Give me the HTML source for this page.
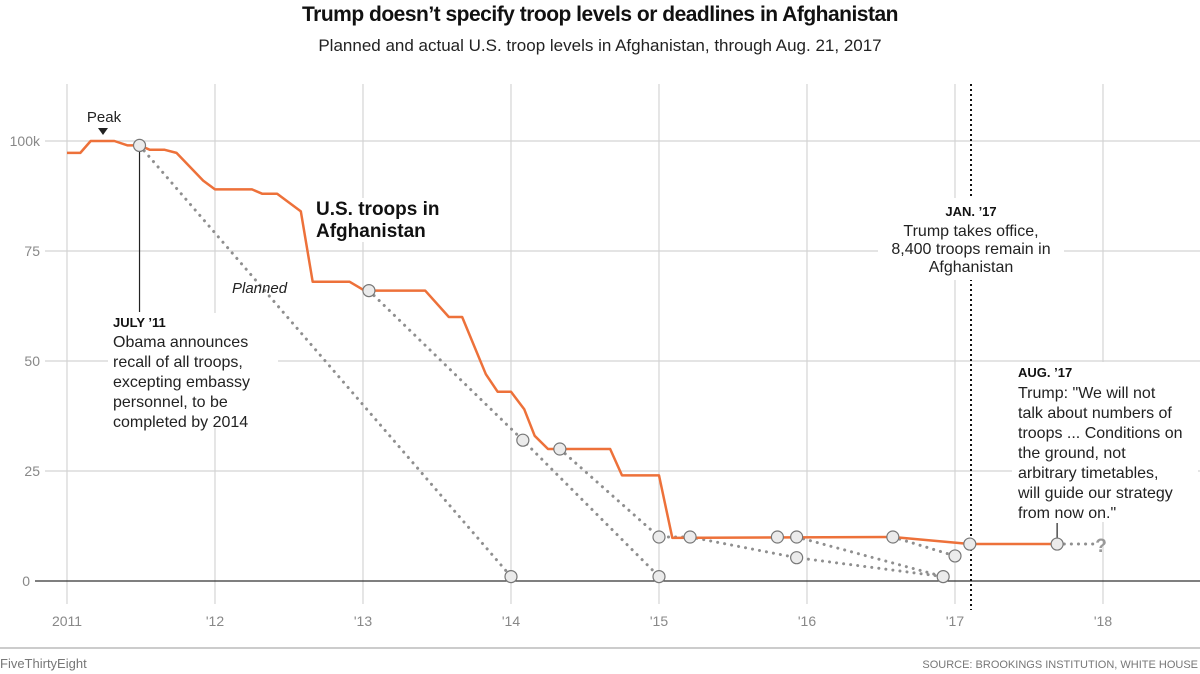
<!DOCTYPE html>
<html><head><meta charset="utf-8">
<style>
body{margin:0;background:#fff;}
svg{display:block;font-family:"Liberation Sans",sans-serif;}
</style></head>
<body>
<svg id="chart" width="1200" height="674" viewBox="0 0 1200 674">
<text x="600" y="21" text-anchor="middle" font-size="21" font-weight="bold" fill="#111" style="letter-spacing:-0.5px">Trump doesn’t specify troop levels or deadlines in Afghanistan</text>
<text x="600" y="51" text-anchor="middle" font-size="17" fill="#222">Planned and actual U.S. troop levels in Afghanistan, through Aug. 21, 2017</text>
<g id="grid"></g>
<g id="axes"></g>
<g id="planned"></g>
<g id="actual"></g>
<g id="notes"></g>
<line x1="0" y1="648" x2="1200" y2="648" stroke="#999" stroke-width="1"/>
<text x="0" y="668" font-size="13" fill="#777">FiveThirtyEight</text>
<text x="1198" y="668" text-anchor="end" font-size="11" fill="#777">SOURCE: BROOKINGS INSTITUTION, WHITE HOUSE</text>
</svg>
<script>
const xTicks=[2011,2012,2013,2014,2015,2016,2017,2018];
const xTickLabels=["2011","'12","'13","'14","'15","'16","'17","'18"];
const yTicks=[0,25,50,75,100];
const yTickLabels=["0","25","50","75","100k"];
const actualYears=[2011.00,2011.09,2011.16,2011.32,2011.41,2011.49,2011.56,2011.66,2011.74,2011.92,2012.00,2012.25,2012.32,2012.42,2012.58,2012.66,2012.91,2013.01,2013.42,2013.58,2013.67,2013.83,2013.91,2014.00,2014.09,2014.16,2014.25,2014.67,2014.75,2015.00,2015.09,2016.58,2017.10,2017.69];
const actualValues=[97.3,97.3,100,100,99,99,98,98,97.3,91,89,89,88,88,84,68,68,66,66,60,60,47,43,43,39,33,30,30,24,24,9.8,10,8.4,8.4];
const plannedA_years=[2011.49,2014.00];const plannedA_values=[99,1];
const plannedB_years=[2013.04,2014.08,2015.00];const plannedB_values=[66,32,1];
const plannedC_years=[2014.33,2015.00,2015.21,2015.93,2016.92];const plannedC_values=[30,10,10,5.3,1];
const plannedD_years=[2015.93,2016.92];const plannedD_values=[10,1];
const plannedE_years=[2016.58,2017.00];const plannedE_values=[10,5.7];
const plannedF_years=[2017.69,2017.97];const plannedF_values=[8.4,8.4];
const circleYears=[2011.49,2013.04,2014.33,2015.00,2015.21,2015.80,2015.93,2016.58,2017.10,2017.69,2014.00,2014.08,2015.00,2015.93,2016.92,2017.00];
const circleValues=[99,66,30,10,10,10,10,10,8.4,8.4,1,32,1,5.3,1,5.7];

const NS="http://www.w3.org/2000/svg";
const X=y=>67+(y-2011)*148;
const Y=v=>581-v*4.4;
function mk(tag,attrs,parent){const e=document.createElementNS(NS,tag);for(const k in attrs)e.setAttribute(k,attrs[k]);parent.appendChild(e);return e;}
const grid=document.getElementById('grid'),axes=document.getElementById('axes'),planned=document.getElementById('planned'),actual=document.getElementById('actual'),notes=document.getElementById('notes');

xTicks.forEach((t,i)=>{
  const l=mk('line',{x1:X(t),x2:X(t),y1:84,y2:604,stroke:'#d4d4d4','stroke-width':1.2},grid);
  
  
  const tx=mk('text',{x:X(t),y:626,'text-anchor':'middle','font-size':14,fill:'#888'},axes);
  tx.textContent=xTickLabels[i];
  
  
});
yTicks.forEach((t,i)=>{
  if(t>0){const l=mk('line',{x1:45,x2:1200,y1:Y(t),y2:Y(t),stroke:'#d4d4d4','stroke-width':1.2},grid);
  
  }
  const tx=mk('text',{x:t>0?40:30,y:Y(t)+5,'text-anchor':'end','font-size':14,fill:'#888'},axes);
  tx.textContent=yTickLabels[i];
  
  
});
const base=mk('line',{x1:35,x2:1200,y1:Y(0),y2:Y(0),stroke:'#333','stroke-width':1.3},axes);



const jan=mk('line',{x1:971,x2:971,y1:84,y2:610,stroke:'#111','stroke-width':2,'stroke-dasharray':'2,3'},notes);


const jl=mk('line',{x1:X(2011.49),x2:X(2011.49),y1:Y(99),y2:312,stroke:'#222','stroke-width':1.2},notes);


const al=mk('line',{x1:X(2017.69),x2:X(2017.69),y1:523,y2:Y(8.4),stroke:'#222','stroke-width':1.2},notes);


[[878,198,186,82],[1012,362,186,160],[312,198,136,44],[108,313,170,115]].forEach((r,i)=>{
  const b=mk('rect',{x:r[0],y:r[1],width:r[2],height:r[3],fill:'#fff'},notes);
  
  
});

function dotted(ys,vs,name){
  const p=mk('polyline',{points:ys.map((y,i)=>X(y)+','+Y(vs[i])).join(' '),fill:'none',stroke:'#8f8f8f','stroke-width':3,'stroke-dasharray':'0.1,7','stroke-linecap':'round'},planned);
  
  
}
dotted(plannedA_years,plannedA_values,'planned-line-2011');
dotted(plannedB_years,plannedB_values,'planned-line-2013');
dotted(plannedC_years,plannedC_values,'planned-line-2014');
dotted(plannedD_years,plannedD_values,'planned-line-2015');
dotted(plannedE_years,plannedE_values,'planned-line-2016');
dotted(plannedF_years,plannedF_values,'planned-line-future');

const line=mk('polyline',{points:actualYears.map((y,i)=>X(y)+','+Y(actualValues[i])).join(' '),fill:'none',stroke:'#ed713a','stroke-width':2.5,'stroke-linejoin':'round'},actual);



circleYears.forEach((y,i)=>{
  const c=mk('circle',{cx:X(y),cy:Y(circleValues[i]),r:6,fill:'#ebebeb',stroke:'#777','stroke-width':1.2},planned.parentNode);
  
  
});

function txt(x,y,s,opts,name){
  const t=mk('text',Object.assign({x:x,y:y,'font-size':16,fill:'#222'},opts||{}),notes.parentNode);
  t.textContent=s;
  
  
  return t;
}
txt(1101,552,'?',{'font-size':19,'font-weight':'bold',fill:'#999','text-anchor':'middle'},'unknown-future-mark');
txt(104,122,'Peak',{'font-size':15,'text-anchor':'middle'},'peak-label');
const tri=mk('path',{d:'M98,128 L108,128 L103,135 Z',fill:'#222'},notes);


txt(316,215,'U.S. troops in',{'font-size':19,'font-weight':'bold',fill:'#111'},'series-label-line1');
txt(316,237,'Afghanistan',{'font-size':19,'font-weight':'bold',fill:'#111'},'series-label-line2');
txt(232,293,'Planned',{'font-size':15,'font-style':'italic'},'planned-label');
txt(113,327,'JULY ’11',{'font-size':13,'font-weight':'bold',fill:'#111'},'july-11-heading');
['Obama announces','recall of all troops,','excepting embassy','personnel, to be','completed by 2014'].forEach((s,i)=>txt(113,347+i*20,s,{},'july-11-text-'+i));
txt(971,216,'JAN. ’17',{'font-size':13,'font-weight':'bold',fill:'#111','text-anchor':'middle'},'jan-17-heading');
['Trump takes office,','8,400 troops remain in','Afghanistan'].forEach((s,i)=>txt(971,236+i*18,s,{'text-anchor':'middle'},'jan-17-text-'+i));
txt(1018,377,'AUG. ’17',{'font-size':13,'font-weight':'bold',fill:'#111'},'aug-17-heading');
['Trump: "We will not','talk about numbers of','troops ... Conditions on','the ground, not','arbitrary timetables,','will guide our strategy','from now on."'].forEach((s,i)=>txt(1018,398+i*20,s,{},'aug-17-text-'+i));
</script>
</body></html>
